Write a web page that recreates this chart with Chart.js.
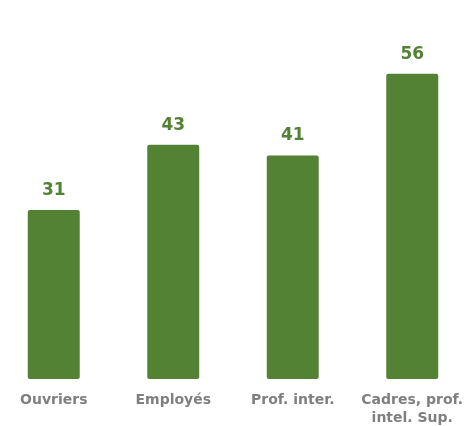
<!DOCTYPE html>
<html>
<head>
<meta charset="utf-8">
<script src="https://cdn.jsdelivr.net/npm/chart.js@4/dist/chart.umd.min.js"></script>
<style>
  html, body { margin: 0; padding: 0; background: #fff; overflow: hidden; }
  #wrap { position: absolute; left: -6px; top: 0; width: 478px; height: 426px; }
</style>
</head>
<body>
<div id="wrap"><canvas id="chart"></canvas></div>
<script>
// Data
const categories = ['Ouvriers', 'Employés', 'Prof. inter.', ['Cadres, prof.', 'intel. Sup.']];
const values = [31, 43, 41, 56];

const GREEN = '#548235';
const GREY = '#7f7f7f';
const FONT = '"DejaVu Sans", Verdana, sans-serif';

// Value labels above the bars
const valueLabels = {
  id: 'valueLabels',
  afterDatasetsDraw(chart) {
    const ctx = chart.ctx;
    const meta = chart.getDatasetMeta(0);
    ctx.save();
    ctx.fillStyle = GREEN;
    ctx.font = 'bold 17px ' + FONT;
    ctx.textAlign = 'center';
    ctx.textBaseline = 'bottom';
    meta.data.forEach((bar, i) => {
      ctx.fillText(String(values[i]), bar.x, bar.y - 11);
    });
    ctx.restore();
  }
};

new Chart(document.getElementById('chart'), {
  type: 'bar',
  data: {
    labels: categories,
    datasets: [{
      data: values,
      backgroundColor: GREEN,
      borderRadius: 2,
      borderSkipped: false,
      categoryPercentage: 1,
      barPercentage: 0.435,
    }]
  },
  options: {
    responsive: true,
    maintainAspectRatio: false,
    animation: false,
    layout: { padding: { top: 52, left: 0, right: 0, bottom: 0 } },
    plugins: { legend: { display: false }, tooltip: { enabled: false } },
    scales: {
      x: {
        grid: { display: false },
        border: { display: false },
        ticks: {
          color: GREY,
          font: { family: FONT, size: 14, weight: 'bold', lineHeight: 1.25 },
          padding: 5,
          maxRotation: 0,
          autoSkip: false,
        },
        afterFit(scale) { scale.height = 47; }
      },
      y: {
        display: false,
        min: 0,
        max: 60,
      }
    }
  },
  plugins: [valueLabels]
});
</script>
</body>
</html>
